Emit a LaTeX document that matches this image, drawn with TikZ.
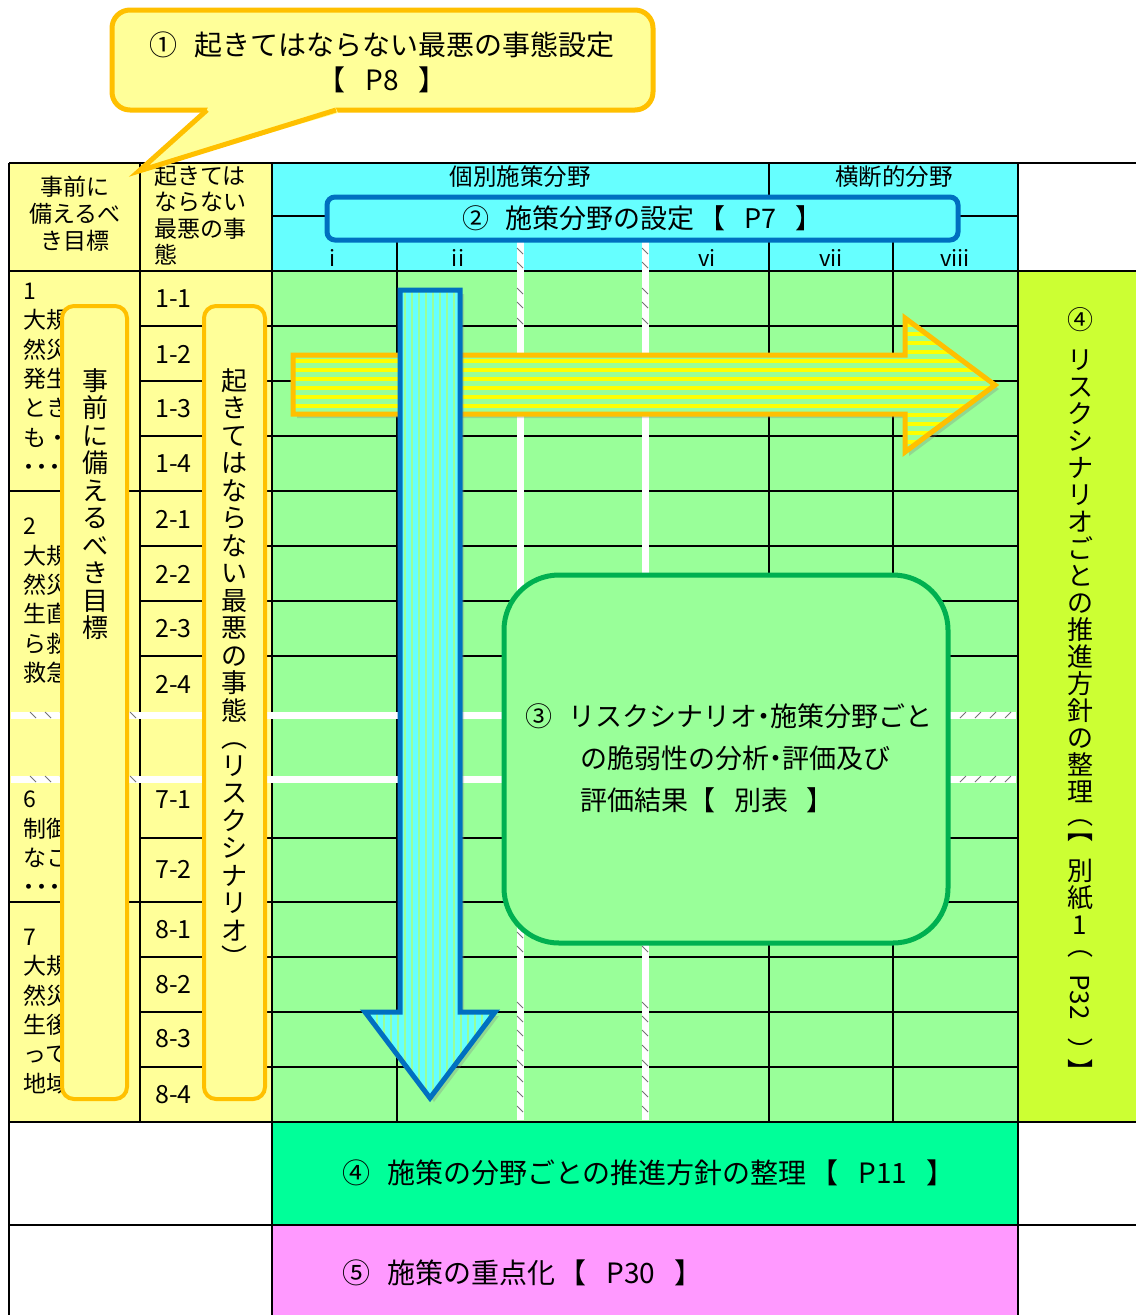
\documentclass[tikz,border=0pt]{standalone}
\usepackage{fontspec}
\setmainfont{Noto Sans CJK JP}
\usetikzlibrary{shadows}
\definecolor{ly}{HTML}{FFFF99}
\definecolor{og}{HTML}{FFC000}
\definecolor{cy}{HTML}{66FFFF}
\definecolor{lg}{HTML}{99FF99}
\definecolor{bl}{HTML}{0070C0}
\definecolor{gr}{HTML}{00B050}
\definecolor{yg}{HTML}{CCFF33}
\definecolor{mg}{HTML}{00FF99}
\definecolor{pk}{HTML}{FF99FF}
\definecolor{yl}{HTML}{FFFF00}
\newcommand\gp{\hspace{0.6em}}
\newcommand\bs{\hspace{0.7em}}
\newcommand\nd{\kern-7pt・\kern-7pt}
\newcommand\tdots{\kern-6pt・\kern-10pt・\kern-10pt・}
\tikzset{
  gridline/.style={black, line width=1.4pt},
  thickline/.style={black, line width=2.8pt},
  band/.style={white, line width=7pt},
  hatch/.style={black!55, line width=0.8pt},
  grouptext/.style={inner sep=0pt, anchor=north west, align=left, font=\fontsize{23}{29.3}\selectfont},
  numtext/.style={inner sep=0pt, anchor=west, font=\fontsize{25}{25}\selectfont},
  hdtext/.style={inner sep=0pt, font=\fontsize{23.5}{23.5}\selectfont},
  subtext/.style={inner sep=0pt, font=\fontsize{22}{22}\selectfont},
  vboxstyle/.style={draw=og, fill=ly, line width=4pt, rounded corners=12pt},
  vtext/.style={inner sep=0pt, anchor=north, align=center, font=\fontsize{26}{27.5}\selectfont},
  vchar/.style={inner sep=0pt, font=\fontsize{26}{26}\selectfont},
  bigtext/.style={inner sep=0pt, font=\fontsize{28}{28}\selectfont},
  midtext/.style={inner sep=0pt, font=\fontsize{27}{27}\selectfont},
  shadowed/.style={drop shadow={opacity=0.3, shadow xshift=4pt, shadow yshift=-4pt}},
}
\begin{document}
\begin{tikzpicture}[x=1pt,y=-1pt]
\useasboundingbox (0,0) rectangle (1136,1315);
\fill[white] (0,0) rectangle (1136,1315);
% ---------- cell fills
\fill[ly] (9,163) rectangle (272,1122);
\fill[cy] (272,163) rectangle (1018,271);
\fill[lg] (272,271) rectangle (1018,1122);
\fill[yg] (1018,271) rectangle (1136,1122);
\fill[mg] (272,1122) rectangle (1018,1225);
\fill[pk] (272,1225) rectangle (1018,1315);
% ---------- grid lines
\foreach \y in {326,381,436,491,546,601,656,838,902,957,1012,1067}
  \draw[gridline] (140,\y) -- (1018,\y);
\foreach \y in {491,902}
  \draw[gridline] (9,\y) -- (140,\y);
\draw[gridline] (272,216) -- (1018,216);
\draw[gridline] (140,163) -- (140,1122);
\draw[gridline] (397,216) -- (397,1122);
\draw[gridline] (769,163) -- (769,1122);
\draw[gridline] (893,216) -- (893,1122);
\draw[gridline] (272,163) -- (272,1315);
\draw[gridline] (1018,1122) -- (1018,1315);
\draw[thickline] (1018,163) -- (1018,1122);
\draw[thickline] (9,163) -- (9,1315);
\draw[gridline] (9,163) -- (1136,163);
\draw[thickline] (9,271) -- (1136,271);
\draw[thickline] (9,1122) -- (1136,1122);
\draw[thickline] (9,1225) -- (1136,1225);
% ---------- break bands
\foreach \x in {520,645} {
  \draw[band] (\x,218) -- (\x,1120);
  \foreach \y in {248,262,288,302,318,932,946,1002,1016,1030,1045,1060,1076,1091,1106}
    \draw[hatch] (\x-3,\y) -- (\x+3,\y+6);
}
\foreach \y in {715,779} {
  \draw[band] (11,\y) -- (1016,\y);
  \foreach \x in {30,45,60,130}
    \draw[hatch] (\x,\y-3) -- (\x+6,\y+3);
  \foreach \x in {960,975,990,1005}
    \draw[hatch] (\x,\y+3) -- (\x+6,\y-3);
}
% ---------- header texts
\node[name=h1, inner sep=0pt, align=center, anchor=north, font=\fontsize{23}{27}\selectfont] at (75,176) {事前に\\備えるべ\\き目標};
\node[name=h2, inner sep=0pt, align=left, anchor=north west, font=\fontsize{23}{26.3}\selectfont] at (154,165) {起きては\\ならない\\最悪の事\\態};
\node[name=h3, hdtext] at (520,177) {個別施策分野};
\node[name=h4, hdtext] at (894,177) {横断的分野};
\node[name=s1, subtext] at (333,258) {i};
\node[name=s2, subtext] at (458,258) {ii};
\node[name=s3, subtext] at (707,258) {vi};
\node[name=s4, subtext] at (831,258) {vii};
\node[name=s5, subtext] at (955,258) {viii};
% ---------- goal group texts (col 1)
\node[name=g1, grouptext] at (23,283) {1\\大規\\然災\\発生\\とき\\も・\\\tdots};
\node[name=g2, grouptext] at (23,518) {2\\大規\\然災\\生直\\ら救\\救急};
\node[name=g6, grouptext] at (23,791) {6\\制御\\なこ\\\tdots};
\node[name=g7, grouptext] at (23,929) {7\\大規\\然災\\生後\\って\\地域};
% ---------- scenario numbers (col 2)
\foreach \t/\y [count=\i] in {1-1/299,1-2/354,1-3/409,1-4/464,2-1/519,2-2/574,2-3/629,2-4/684,7-1/800,7-2/869,8-1/930,8-2/985,8-3/1039,8-4/1095}
  \node[name=n\i, numtext] at (155,\y) {\t};
% ---------- vertical rounded boxes
\draw[vboxstyle] (62,306) rectangle (127,1099);
\node[name=vb1, vtext] at (95,368) {事\\前\\に\\備\\え\\る\\べ\\き\\目\\標};
\draw[vboxstyle] (204,306) rectangle (265,1099);
\node[name=vb2, vtext] at (234,368) {起\\き\\て\\は\\な\\ら\\な\\い\\最\\悪\\の\\事\\態\\︵\\リ\\ス\\ク\\シ\\ナ\\リ\\オ\\︶};
% ---------- right column vertical text
\node[name=rc0, vchar] at (1080,320) {④};
\node[name=rc1, inner sep=0pt, anchor=north, align=center, font=\fontsize{26}{27}\selectfont] at (1080,350)
  {リ\\ス\\ク\\シ\\ナ\\リ\\オ\\ご\\と\\の\\推\\進\\方\\針\\の\\整\\理\\[-4pt]︵\\[-12pt]︻\\[14pt]別\\紙\\1\\[-6pt]︵};
\node[name=rp, vchar, rotate=-90] at (1080,997) {P32};
\node[name=rv1, vchar] at (1080,1050) {︶};
\node[name=rv2, vchar] at (1080,1070) {︼};
% ---------- field setting box
\draw[draw=bl, fill=cy, line width=5pt, rounded corners=8pt] (327,197) rectangle (958,240);
\node[name=b2, inner sep=0pt, anchor=west, font=\fontsize{27}{27}\selectfont] at (462,218) {②\gp 施策分野の設定\kern4pt【\bs P7\bs 】};
% ---------- horizontal arrow
\def\harrowpath{(293,355) -- (905,355) -- (905,318) -- (995,385) -- (905,452) -- (905,414) -- (293,414) -- cycle}
\fill[lg, shadowed] \harrowpath;
\begin{scope}
  \clip \harrowpath;
  \foreach \y in {316,325,...,460}
    \draw[yl, line width=4pt] (285,\y) -- (1000,\y);
\end{scope}
\draw[og, line width=5pt, line join=miter] \harrowpath;
% ---------- vertical arrow
\def\varrowpath{(400,290) -- (460,290) -- (460,1012) -- (495,1012) -- (430,1098) -- (365,1012) -- (400,1012) -- cycle}
\fill[cy, shadowed] \varrowpath;
\begin{scope}
  \clip \varrowpath;
  \foreach \x in {363,370,...,500}
    \draw[lg, line width=2.5pt] (\x,285) -- (\x,1105);
\end{scope}
\draw[bl, line width=5pt, line join=miter] \varrowpath;
% ---------- analysis box
\draw[draw=gr, fill=lg, line width=5pt, rounded corners=55pt] (504,575) rectangle (948,943);
\node[name=b3a, midtext, anchor=west] at (525,716) {③\gp リスクシナリオ\nd 施策分野ごと};
\node[name=b3b, midtext, anchor=west] at (580,758) {の脆弱性の分析\nd 評価及び};
\node[name=b3c, midtext, anchor=west] at (580,800) {評価結果【\bs 別表\bs 】};
% ---------- bottom rows
\node[name=r4, bigtext, anchor=west] at (342,1173) {④\gp 施策の分野ごとの推進方針の整理\kern4pt【\bs P11\bs 】};
\node[name=r5, bigtext, anchor=west] at (342,1273) {⑤\gp 施策の重点化\kern4pt【\bs P30\bs 】};
% ---------- callout
\draw[draw=og, fill=ly, line width=5pt, rounded corners=18pt] (112,10) rectangle (653,110);
\fill[ly] (210,104) -- (205,113) -- (139,171) -- (338,113) -- (334,104) -- cycle;
\draw[og, line width=5pt, line join=miter] (207,110) -- (139,171) -- (336,110);
\node[name=c1, bigtext] at (382,45) {①\gp 起きてはならない最悪の事態設定};
\node[name=c2, bigtext] at (382,80) {【\bs P8\bs 】};
\end{tikzpicture}
\end{document}
